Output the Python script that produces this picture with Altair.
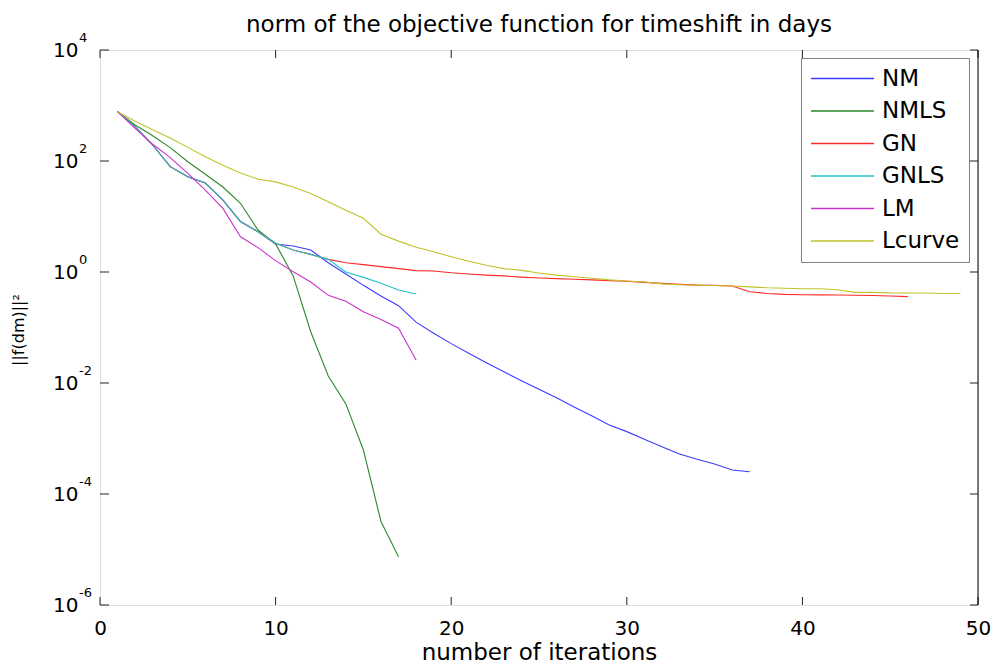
import altair as alt
import pandas as pd

# ---- data ----
methods = ["NM", "NMLS", "GN", "GNLS", "LM", "Lcurve"]
colors = ["#3c3cff", "#2a8a2a", "#ff2a2a", "#22c4c4", "#cc33cc", "#c2c22a"]

NM = [775, 416, 194, 79, 52, 40, 19.8, 8.1, 5.3, 3.2, 2.94, 2.49, 1.47, 0.92,
      0.575, 0.37, 0.247, 0.125, 0.0785, 0.0512, 0.0343, 0.0232, 0.016, 0.011,
      0.0077, 0.0054, 0.0037, 0.00258, 0.00175, 0.00133, 0.00097, 0.000713,
      0.000526, 0.000422, 0.000347, 0.00027, 0.000252]
NMLS = [775, 446, 286, 174, 97, 57.6, 34, 17.3, 5.7, 3.2, 0.85, 0.084, 0.0134,
        0.0042, 0.00062, 0.000032, 0.0000074]
GN = [775, 416, 194, 79, 52, 40, 19.8, 8.1, 5.3, 3.3, 2.49, 2.08, 1.69, 1.47,
      1.36, 1.25, 1.15, 1.06, 1.04, 0.97, 0.92, 0.88, 0.85, 0.81, 0.78, 0.76,
      0.74, 0.72, 0.70, 0.68, 0.65, 0.625, 0.60, 0.58, 0.575, 0.56, 0.44, 0.41,
      0.396, 0.39, 0.387, 0.385, 0.38, 0.377, 0.37, 0.36]
GNLS = [775, 416, 194, 79, 52, 40, 19.8, 8.1, 5.3, 3.3, 2.49, 2.08, 1.69, 1.0,
        0.80, 0.625, 0.474, 0.40]
LM = [775, 388, 200, 115, 60, 30, 14, 4.3, 2.75, 1.6, 1.01, 0.66, 0.38, 0.296,
      0.193, 0.14, 0.097, 0.026]
LCURVE = [775, 520, 364, 260, 176, 119, 84, 61, 47, 42, 34, 26, 18.5, 13, 9.3,
          4.8, 3.6, 2.8, 2.32, 1.89, 1.56, 1.32, 1.15, 1.07, 0.96, 0.88, 0.82,
          0.77, 0.72, 0.69, 0.66, 0.61, 0.59, 0.58, 0.57, 0.56, 0.54, 0.52, 0.51,
          0.50, 0.50, 0.48, 0.43, 0.43, 0.42, 0.418, 0.418, 0.41, 0.41]

xticks = [0, 10, 20, 30, 40, 50]
yticks = [1e-6, 1e-4, 1e-2, 1, 1e2, 1e4]
yexps = ["-6", "-4", "-2", "0", "2", "4"]

title_text = "norm of the objective function for timeshift in days"
xtitle = "number of iterations"
ytitle = "||f(dm)||²"

# ---- build table ----
series = [NM, NMLS, GN, GNLS, LM, LCURVE]
rows = []
for name, vals in zip(methods, series):
    for i, v in enumerate(vals, start=1):
        rows.append({"method": name, "iter": i, "val": v})
df = pd.DataFrame(rows)
xdf = pd.DataFrame({"x": xticks})
ydf = pd.DataFrame({"y": yticks, "e": yexps})

W, H = 878, 555
FONT = "DejaVu Sans"

xscale = alt.Scale(domain=[0, 50], nice=False)
yscale = alt.Scale(type="log", domain=[1e-6, 1e4], nice=False)
cscale = alt.Scale(domain=methods, range=colors)

xaxis = alt.Axis(values=xticks, ticks=False, tickSize=0, domain=False, grid=False,
                 labelFlush=False, labelPadding=13, labelFontSize=20, labelFont=FONT,
                 labelColor="black", title=xtitle, titleFont=FONT, titleFontSize=23,
                 titleFontWeight="normal", titleColor="black", titlePadding=3, format="d")
yaxis = alt.Axis(values=yticks, labelExpr="'10'", ticks=False, tickSize=0, domain=False,
                 grid=False, labelFlush=False, labelPadding=22, labelFontSize=20,
                 labelFont=FONT, labelColor="black", title=ytitle, titleFont=FONT,
                 titleFontSize=16, titleFontWeight="normal", titleColor="black",
                 titleX=-82, titleY=H / 2 + 2, titleAngle=-90, titleAlign="center",
                 titleBaseline="middle")

# line-shaped legend symbol: spans from -r to 5r, r = sqrt(size)/2 = 10.5 -> 63 px long
legend = alt.Legend(title=None, orient="none", legendX=701, legendY=8,
                    strokeColor="#808080", fillColor="white", padding=9,
                    labelFontSize=23, labelFont=FONT, labelColor="black",
                    symbolType="M-1,0L5,0", symbolSize=441, symbolStrokeWidth=1.3,
                    labelOffset=49, rowPadding=8.5)

layers = []
for m in methods:
    layers.append(
        alt.Chart(df).transform_filter(alt.datum.method == m)
        .mark_line(strokeWidth=1.1)
        .encode(
            x=alt.X("iter:Q", scale=xscale, axis=xaxis),
            y=alt.Y("val:Q", scale=yscale, axis=yaxis),
            color=alt.Color("method:N", scale=cscale, legend=legend),
        )
    )

tick_color = "#222222"
xt_bottom = alt.Chart(xdf).mark_rule(color=tick_color).encode(
    x=alt.X("x:Q", scale=xscale), y=alt.value(H), y2=alt.value(H - 8))
xt_top = alt.Chart(xdf).mark_rule(color=tick_color).encode(
    x=alt.X("x:Q", scale=xscale), y=alt.value(0), y2=alt.value(8))
yt_left = alt.Chart(ydf).mark_rule(color=tick_color).encode(
    y=alt.Y("y:Q", scale=yscale), x=alt.value(0), x2=alt.value(9))
yt_right = alt.Chart(ydf).mark_rule(color=tick_color).encode(
    y=alt.Y("y:Q", scale=yscale), x=alt.value(W), x2=alt.value(W - 8))
right_edge = alt.Chart(ydf.head(1)).mark_rule(color="black").encode(
    x=alt.value(W), y=alt.value(0), y2=alt.value(H))

exps = alt.Chart(ydf).mark_text(align="left", baseline="middle", fontSize=13,
                                font=FONT, color="black", dy=-12).encode(
    y=alt.Y("y:Q", scale=yscale), x=alt.value(-21), text="e:N")

chart = alt.layer(*layers, xt_bottom, xt_top, yt_left, yt_right, right_edge, exps).properties(
    width=W, height=H,
    title=alt.TitleParams(text=title_text, font=FONT, fontSize=23, fontWeight="normal",
                          color="black", anchor="middle", offset=17, dy=22),
    autosize=alt.AutoSizeParams(type="none"),
    padding={"left": 100, "top": 50, "right": 19, "bottom": 63},
).configure_view(stroke="#808080", strokeWidth=1).configure(background="white")

chart.save("out.html", embed_options={"renderer": "svg", "actions": False})
